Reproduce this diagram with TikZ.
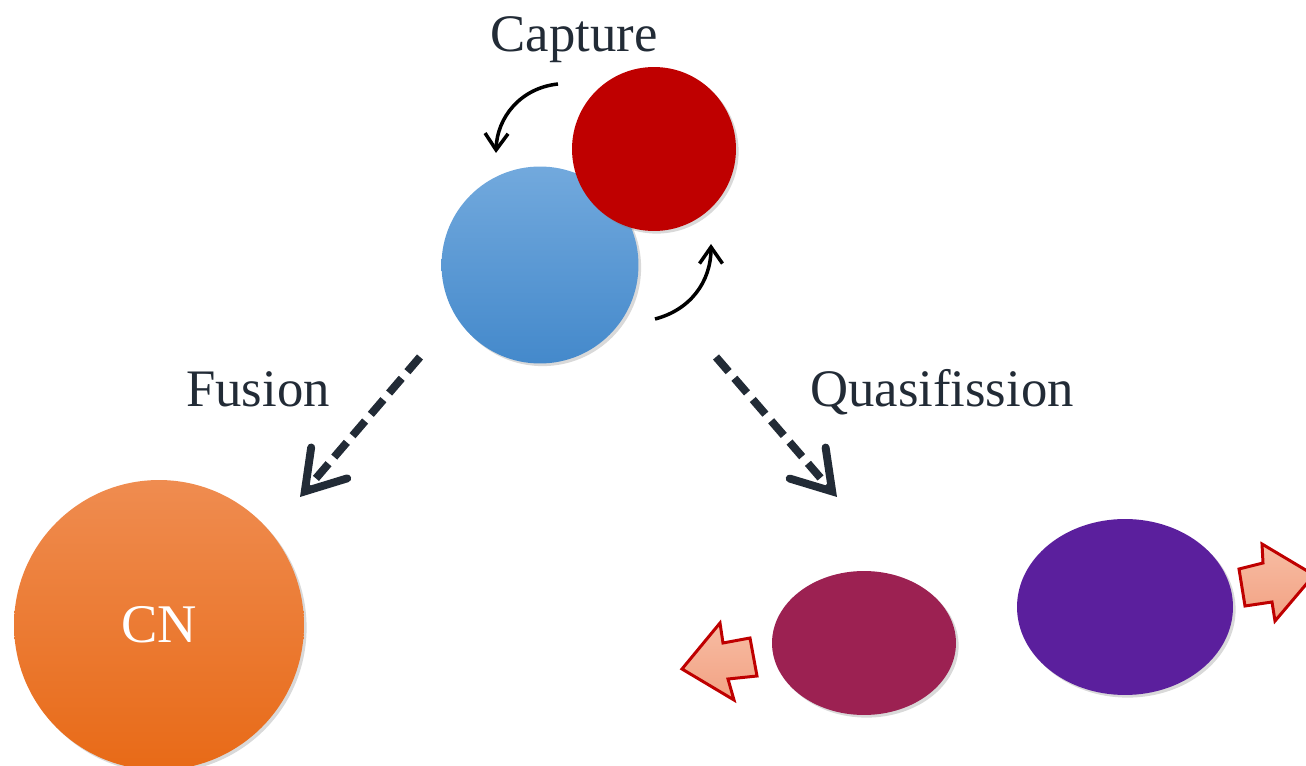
\documentclass[tikz,border=0pt]{standalone}
\usepackage{fontspec}
\setmainfont{Liberation Serif}
\usetikzlibrary{shapes.geometric,shadows,arrows.meta}
\definecolor{ink}{HTML}{222B36}
\definecolor{projtop}{HTML}{72A9DD}
\definecolor{projbot}{HTML}{4489CB}
\definecolor{targred}{HTML}{BF0000}
\definecolor{cntop}{HTML}{EF8C50}
\definecolor{cnmid}{HTML}{F47F2A}
\definecolor{cnbot}{HTML}{E86A17}
\definecolor{fraga}{HTML}{9C2152}
\definecolor{fragb}{HTML}{5B1F9D}
\definecolor{pushtop}{HTML}{F7BCA3}
\definecolor{pushbot}{HTML}{F2A283}
\begin{document}
\begin{tikzpicture}[x=0.02cm, y=-0.02cm,
  ball/.style = {circle, draw=none, inner sep=0pt,
    drop shadow={opacity=0.3, shadow xshift=1.5pt, shadow yshift=-1.5pt}},
  blob/.style = {ellipse, draw=none, inner sep=0pt,
    drop shadow={opacity=0.3, shadow xshift=1.5pt, shadow yshift=-1.5pt}},
  lbl/.style = {text=ink, font=\fontsize{30}{36}\selectfont},
  spin/.style = {-{Straight Barb[length=3.3mm,width=4.6mm]}, line width=2pt},
  decay/.style = {ink, line width=4.5pt, dash pattern=on 11pt off 5pt,
    -{Straight Barb[length=7.5mm,width=9.5mm,line cap=round]}},
  push/.style = {draw=targred, line width=1.7pt, line join=miter,
    top color=pushtop, bottom color=pushbot}]
  \useasboundingbox (0,0) rectangle (1306,766);

  \node[ball, minimum size=3.94cm, top color=projtop, bottom color=projbot] (proj) at (540,265) {};
  \node[ball, minimum size=3.28cm, fill=targred] (targ) at (654,149) {};
  \node[ball, minimum size=5.8cm, top color=cntop, middle color=cnmid, bottom color=cnbot,
    text=white, font=\fontsize{31}{36}\selectfont] (cn) at (159,625) {CN};
  \node[blob, minimum width=3.68cm, minimum height=2.88cm, fill=fraga] (fragl) at (864,643) {};
  \node[blob, minimum width=4.32cm, minimum height=3.52cm, fill=fragb] (fragr) at (1125,607) {};

  \node[lbl, anchor=base] (capt) at (574,52) {Capture};
  \node[lbl, anchor=base] (fus) at (258,407) {Fusion};
  \node[lbl, anchor=base] (qf) at (942,407) {Quasifission};

  \coordinate (spinAs) at (558,84);
  \coordinate (spinAe) at (496,153);
  \coordinate (spinBs) at (655,319);
  \coordinate (spinBe) at (711,244);
  \draw[spin] (spinAs) .. controls (520,88) and (497,118) .. (spinAe);
  \draw[spin] (spinBs) .. controls (690,310) and (711,282) .. (spinBe);

  \coordinate (fusA) at (420,357);
  \coordinate (fusB) at (300,497);
  \coordinate (qfA) at (716,357);
  \coordinate (qfB) at (837,497);
  \draw[decay] (fusA) -- (fusB);
  \draw[decay] (qfA) -- (qfB);

  \path[push] (682,669) -- (720,623) -- (723,643) -- (750,638)
    -- (757,676) -- (728,679) -- (734,700) -- cycle;
  \path[push] (1239,569) -- (1263,563) -- (1262,544) -- (1314,575)
    -- (1275,621) -- (1272,602) -- (1245,606) -- cycle;
\end{tikzpicture}
\end{document}
